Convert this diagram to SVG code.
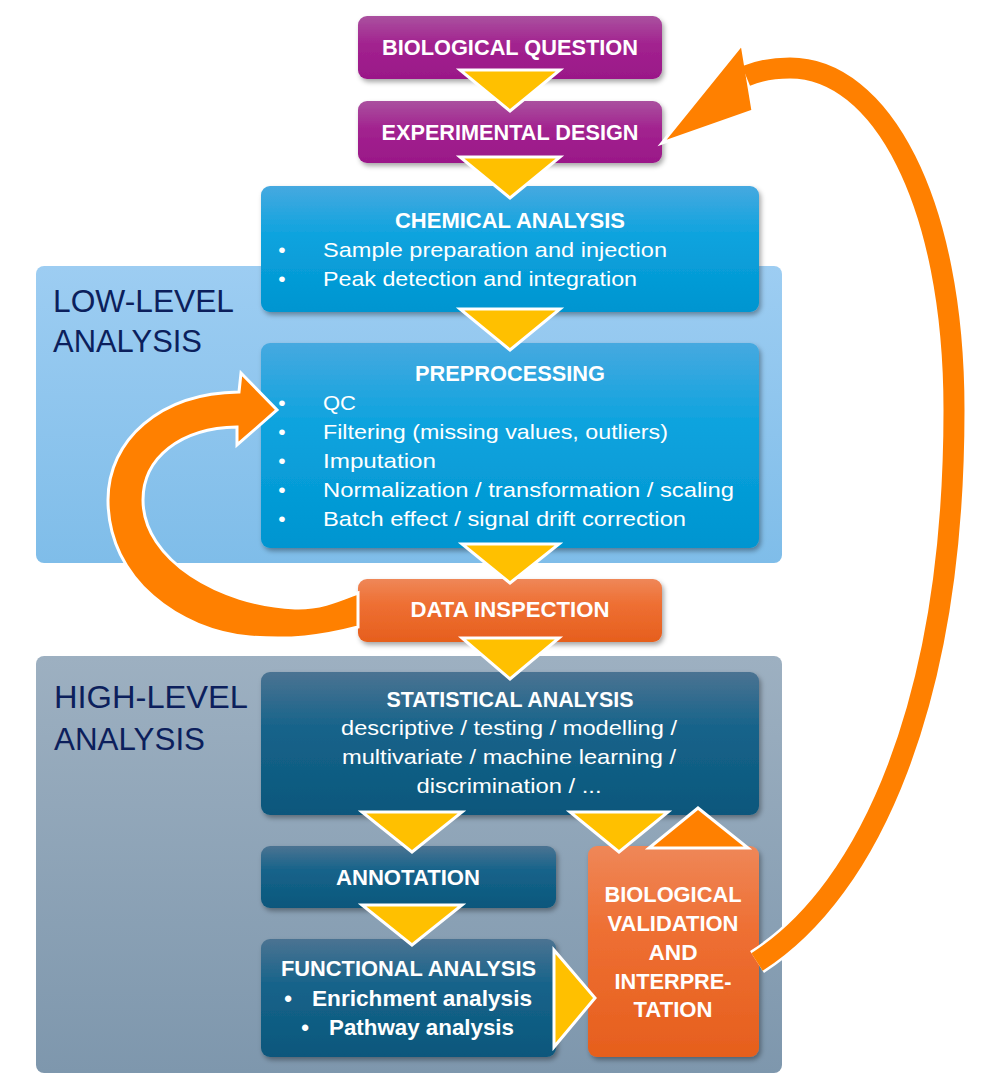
<svg xmlns="http://www.w3.org/2000/svg" width="986" height="1074" viewBox="0 0 986 1074">
<defs>
<linearGradient id="gPurple" x1="0" y1="0" x2="0" y2="1">
<stop offset="0" stop-color="#aa519f"/><stop offset="0.45" stop-color="#a2228f"/><stop offset="1" stop-color="#9a1888"/>
</linearGradient>
<linearGradient id="gBlue" x1="0" y1="0" x2="0" y2="1">
<stop offset="0" stop-color="#46a9e0"/><stop offset="0.4" stop-color="#0ca3de"/><stop offset="1" stop-color="#0095d0"/>
</linearGradient>
<linearGradient id="gDark" x1="0" y1="0" x2="0" y2="1">
<stop offset="0" stop-color="#4b7392"/><stop offset="0.4" stop-color="#15638a"/><stop offset="1" stop-color="#0c577c"/>
</linearGradient>
<linearGradient id="gOrange" x1="0" y1="0" x2="0" y2="1">
<stop offset="0" stop-color="#ef8758"/><stop offset="0.4" stop-color="#ee6f33"/><stop offset="1" stop-color="#e65f1d"/>
</linearGradient>
<linearGradient id="gLow" x1="0" y1="0" x2="0" y2="1">
<stop offset="0" stop-color="#9dcdf2"/><stop offset="1" stop-color="#7fbde9"/>
</linearGradient>
<linearGradient id="gHigh" x1="0" y1="0" x2="0" y2="1">
<stop offset="0" stop-color="#9db0c1"/><stop offset="1" stop-color="#7e97ad"/>
</linearGradient>
<filter id="shadow" x="-10%" y="-10%" width="125%" height="130%">
<feDropShadow dx="2" dy="3" stdDeviation="2.5" flood-color="#000" flood-opacity="0.35"/>
</filter>
</defs>
<style>
.t{font-family:"Liberation Sans",Arial,sans-serif;fill:#fff}
.b{font-weight:bold;font-size:22px}
.r{font-size:21px}
.reg{font-family:"Liberation Sans",Arial,sans-serif;font-size:31px;fill:#0c1f5c}
.box{filter:url(#shadow)}
.tri{fill:#ffc000;stroke:#fff;stroke-width:3;stroke-linejoin:miter}
.orange{fill:#ff8000;stroke:#fff;stroke-width:3}
</style>

<g id="low-level-region">
<rect x="36" y="266" width="746" height="297" rx="8" fill="url(#gLow)"/>
<text class="reg" x="53" y="312" textLength="181" lengthAdjust="spacingAndGlyphs">LOW-LEVEL</text>
<text class="reg" x="53" y="352" textLength="149" lengthAdjust="spacingAndGlyphs">ANALYSIS</text>
</g>
<g id="high-level-region">
<rect x="36" y="656" width="746" height="417" rx="8" fill="url(#gHigh)"/>
<text class="reg" x="54" y="708" textLength="194" lengthAdjust="spacingAndGlyphs">HIGH-LEVEL</text>
<text class="reg" x="54" y="750" textLength="151" lengthAdjust="spacingAndGlyphs">ANALYSIS</text>
</g>

<g id="biological-question">
<rect class="box" x="358" y="16" width="304" height="63" rx="9" fill="url(#gPurple)"/>
<text class="t b" x="510" y="55" text-anchor="middle" textLength="256" lengthAdjust="spacingAndGlyphs">BIOLOGICAL QUESTION</text>
</g>
<g id="experimental-design">
<rect class="box" x="358" y="101" width="304" height="62" rx="9" fill="url(#gPurple)"/>
<text class="t b" x="510" y="140" text-anchor="middle" textLength="257" lengthAdjust="spacingAndGlyphs">EXPERIMENTAL DESIGN</text>
</g>
<g id="chemical-analysis">
<rect class="box" x="261" y="186" width="498" height="126" rx="9" fill="url(#gBlue)"/>
<text class="t b" x="510" y="228" text-anchor="middle" textLength="230" lengthAdjust="spacingAndGlyphs">CHEMICAL ANALYSIS</text>
<text class="t r" x="282" y="257" text-anchor="middle">•</text>
<text class="t r" x="323" y="257" textLength="344" lengthAdjust="spacingAndGlyphs">Sample preparation and injection</text>
<text class="t r" x="282" y="286" text-anchor="middle">•</text>
<text class="t r" x="323" y="286" textLength="314" lengthAdjust="spacingAndGlyphs">Peak detection and integration</text>
</g>
<g id="preprocessing">
<rect class="box" x="261" y="343" width="498" height="205" rx="9" fill="url(#gBlue)"/>
<text class="t b" x="510" y="381" text-anchor="middle" textLength="190" lengthAdjust="spacingAndGlyphs">PREPROCESSING</text>
<text class="t r" x="282" y="410" text-anchor="middle">•</text>
<text class="t r" x="323" y="410" textLength="33" lengthAdjust="spacingAndGlyphs">QC</text>
<text class="t r" x="282" y="439" text-anchor="middle">•</text>
<text class="t r" x="323" y="439" textLength="345" lengthAdjust="spacingAndGlyphs">Filtering (missing values, outliers)</text>
<text class="t r" x="282" y="468" text-anchor="middle">•</text>
<text class="t r" x="323" y="468" textLength="113" lengthAdjust="spacingAndGlyphs">Imputation</text>
<text class="t r" x="282" y="497" text-anchor="middle">•</text>
<text class="t r" x="323" y="497" textLength="411" lengthAdjust="spacingAndGlyphs">Normalization / transformation / scaling</text>
<text class="t r" x="282" y="526" text-anchor="middle">•</text>
<text class="t r" x="323" y="526" textLength="363" lengthAdjust="spacingAndGlyphs">Batch effect / signal drift correction</text>
</g>
<g id="data-inspection">
<rect class="box" x="358" y="579" width="304" height="63" rx="9" fill="url(#gOrange)"/>
<text class="t b" x="510" y="617" text-anchor="middle" textLength="199" lengthAdjust="spacingAndGlyphs">DATA INSPECTION</text>
</g>
<g id="statistical-analysis">
<rect class="box" x="261" y="672" width="498" height="143" rx="9" fill="url(#gDark)"/>
<text class="t b" x="510" y="707" text-anchor="middle" textLength="247" lengthAdjust="spacingAndGlyphs">STATISTICAL ANALYSIS</text>
<text class="t r" x="509" y="735" text-anchor="middle" textLength="336" lengthAdjust="spacingAndGlyphs">descriptive / testing / modelling /</text>
<text class="t r" x="509" y="764" text-anchor="middle" textLength="334" lengthAdjust="spacingAndGlyphs">multivariate / machine learning /</text>
<text class="t r" x="509" y="793" text-anchor="middle" textLength="185" lengthAdjust="spacingAndGlyphs">discrimination / ...</text>
</g>
<g id="annotation">
<rect class="box" x="261" y="846" width="295" height="62" rx="9" fill="url(#gDark)"/>
<text class="t b" x="408" y="885" text-anchor="middle" textLength="144" lengthAdjust="spacingAndGlyphs">ANNOTATION</text>
</g>
<g id="functional-analysis">
<rect class="box" x="261" y="939" width="295" height="118" rx="9" fill="url(#gDark)"/>
<text class="t b" x="408.5" y="976" text-anchor="middle" textLength="255" lengthAdjust="spacingAndGlyphs">FUNCTIONAL ANALYSIS</text>
<text class="t b" x="288" y="1006" text-anchor="middle">•</text>
<text class="t b" x="312" y="1006" textLength="220" lengthAdjust="spacingAndGlyphs">Enrichment analysis</text>
<text class="t b" x="305" y="1035" text-anchor="middle">•</text>
<text class="t b" x="329" y="1035" textLength="185" lengthAdjust="spacingAndGlyphs">Pathway analysis</text>
</g>
<g id="biological-validation">
<rect class="box" x="588" y="846" width="171" height="211" rx="9" fill="url(#gOrange)"/>
<text class="t b" x="673" y="902" text-anchor="middle" textLength="137" lengthAdjust="spacingAndGlyphs">BIOLOGICAL</text>
<text class="t b" x="673" y="931" text-anchor="middle" textLength="131" lengthAdjust="spacingAndGlyphs">VALIDATION</text>
<text class="t b" x="673" y="960" text-anchor="middle" textLength="49" lengthAdjust="spacingAndGlyphs">AND</text>
<text class="t b" x="673" y="989" text-anchor="middle" textLength="117" lengthAdjust="spacingAndGlyphs">INTERPRE-</text>
<text class="t b" x="673" y="1017" text-anchor="middle" textLength="79" lengthAdjust="spacingAndGlyphs">TATION</text>
</g>

<g id="connectors">
<polygon class="tri" points="460,70 560,70 510,111"/>
<polygon class="tri" points="460,157 560,157 510,198"/>
<polygon class="tri" points="460,309 560,309 510,350"/>
<polygon class="tri" points="462,544 559,544 510,583"/>
<polygon class="tri" points="462,638 559,638 510,679"/>
<polygon class="tri" points="362,812 462,812 412,852"/>
<polygon class="tri" points="570,812 668,812 619,852"/>
<polygon class="tri" points="362,905 462,905 412,945"/>
<polygon class="tri" points="554,950 595,998 554,1047"/>
<polygon class="orange" points="649,848 748,848 698,808"/>
<path class="orange" d="M358,627 C320,637 290,640 250,637 C180,631 108,580 108,500 C108,440 160,393 239,392 L241,373 L277,410 L237,445 L237,427 C180,428 143,458 143,500 C143,560 220,605 295,608 C320,609 340,600 358,593 Z" stroke-linejoin="miter"/>
<path d="M757,962 C870,890 954,700 954,410 C954,200 880,68 790,68 C770,68 758,71 748,76" fill="none" stroke="#fff" stroke-width="26"/>
<polygon class="orange" points="742,44 662,143 753,111"/>
<path d="M757,962 C870,890 954,700 954,410 C954,200 880,68 790,68 C770,68 758,71 746,76" fill="none" stroke="#ff8000" stroke-width="21"/>
</g>
</svg>
